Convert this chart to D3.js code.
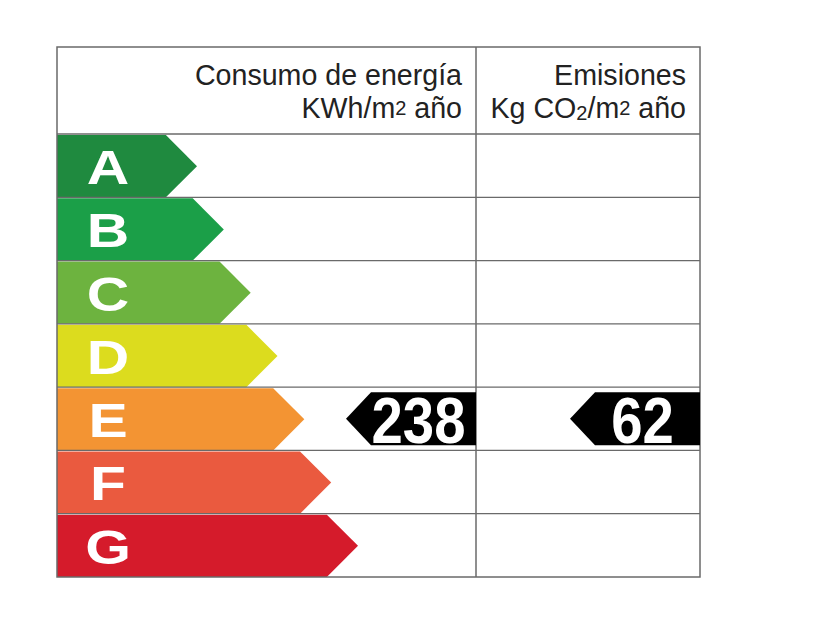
<!DOCTYPE html>
<html>
<head>
<meta charset="utf-8">
<script src="https://cdn.jsdelivr.net/npm/d3@7"></script>
<style>
  html, body { margin: 0; padding: 0; background: #fff; }
  svg { display: block; }
</style>
</head>
<body>
<div id="chart"></div>
<script>
// energy rating classes, best to worst
const ratings = ['A', 'B', 'C', 'D', 'E', 'F', 'G'];
const ratingColors = ['#1f8a3f', '#1b9f48', '#6db33f', '#dcdc1e', '#f39433', '#ea5a3f', '#d51b2b'];

// the two columns of the certificate
const columns = ['consumo', 'emisiones'];
const columnTitles = ['Consumo de energía', 'Emisiones'];
const values = [238, 62];
const valueRatings = ['E', 'E'];

const width = 840;
const height = 630;
const table = { left: 57, right: 700, top: 47, bottom: 577, header: 134, divider: 476 };

const svg = d3.select('#chart')
  .append('svg')
  .attr('width', width)
  .attr('height', height);

// rows
const y = d3.scaleBand()
  .domain(ratings)
  .range([table.header, table.bottom]);

// where each arrow points to
const tip = d3.scalePoint()
  .domain(ratings)
  .range([197, 358]);

const color = d3.scaleOrdinal()
  .domain(ratings)
  .range(ratingColors);

// right edge of each column
const colRight = d3.scaleOrdinal()
  .domain(columns)
  .range([table.divider, table.right]);

const font = '"Liberation Sans", Arial, Helvetica, sans-serif';

// class arrows
const bars = svg.selectAll('g.rating')
  .data(ratings)
  .enter()
  .append('g')
  .attr('class', 'rating');

bars.append('path')
  .attr('d', (d) => {
    const top = y(d) + 1;
    const h = y.bandwidth() - 1;
    const end = tip(d);
    return `M${table.left},${top}H${end - h / 2}L${end},${top + h / 2}L${end - h / 2},${top + h}H${table.left}Z`;
  })
  .attr('fill', (d) => color(d));

bars.append('text')
  .attr('transform', (d) => `translate(108,${y(d) + 50}) scale(1.2,1)`)
  .attr('text-anchor', 'middle')
  .attr('font-family', font)
  .attr('font-weight', 'bold')
  .attr('font-size', 49)
  .attr('fill', '#fff')
  .text((d) => d);

// grid lines
const gridColor = '#6a6a6a';
svg.selectAll('line.rowLine')
  .data(ratings.slice(1))
  .enter()
  .append('line')
  .attr('class', 'rowLine')
  .attr('x1', table.left)
  .attr('x2', table.right)
  .attr('y1', (d) => y(d))
  .attr('y2', (d) => y(d))
  .attr('stroke', gridColor)
  .attr('stroke-width', 1.2);

svg.append('line')
  .attr('x1', table.left)
  .attr('x2', table.right)
  .attr('y1', table.header)
  .attr('y2', table.header)
  .attr('stroke', gridColor)
  .attr('stroke-width', 1.5);

svg.append('line')
  .attr('x1', table.divider)
  .attr('x2', table.divider)
  .attr('y1', table.top)
  .attr('y2', table.bottom)
  .attr('stroke', gridColor)
  .attr('stroke-width', 1.5);

svg.append('rect')
  .attr('x', table.left)
  .attr('y', table.top)
  .attr('width', table.right - table.left)
  .attr('height', table.bottom - table.top)
  .attr('fill', 'none')
  .attr('stroke', gridColor)
  .attr('stroke-width', 1.5);

// header texts
const header = svg.selectAll('text.header')
  .data(columns)
  .enter()
  .append('text')
  .attr('class', 'header')
  .attr('text-anchor', 'end')
  .attr('font-family', font)
  .attr('font-size', 28.6)
  .attr('fill', '#222');

header.append('tspan')
  .attr('x', (d) => colRight(d) - 14)
  .attr('y', 85)
  .text((d, i) => columnTitles[i]);

// second line, units with sub/superscripts
const unitsConsumo = header.filter((d) => d === 'consumo')
  .append('tspan')
  .attr('x', (d) => colRight(d) - 14)
  .attr('y', 118);
unitsConsumo.append('tspan').text('KWh/m');
unitsConsumo.append('tspan').attr('font-size', 20).attr('dy', -3).text('2');
unitsConsumo.append('tspan').attr('dy', 3).text(' año');

const unitsEmis = header.filter((d) => d === 'emisiones')
  .append('tspan')
  .attr('x', (d) => colRight(d) - 14)
  .attr('y', 118);
unitsEmis.append('tspan').text('Kg CO');
unitsEmis.append('tspan').attr('font-size', 20).attr('dy', 2).text('2');
unitsEmis.append('tspan').attr('dy', -2).text('/m');
unitsEmis.append('tspan').attr('font-size', 20).attr('dy', -3).text('2');
unitsEmis.append('tspan').attr('dy', 3).text(' año');

// value indicators
const markW = 130;
const markH = 53;
const markDepth = 25;

const marks = svg.selectAll('g.mark')
  .data(columns)
  .enter()
  .append('g')
  .attr('class', 'mark');

marks.append('path')
  .attr('d', (d, i) => {
    const right = colRight(d);
    const cy = y(valueRatings[i]) + y.bandwidth() / 2;
    const left = right - markW;
    return `M${left},${cy}L${left + markDepth},${cy - markH / 2}H${right}V${cy + markH / 2}H${left + markDepth}Z`;
  })
  .attr('fill', '#000');

marks.append('text')
  .attr('transform', (d, i) => {
    const right = colRight(d);
    const cx = (right - markW + markDepth + right) / 2 - 5;
    return `translate(${cx},${y(valueRatings[i]) + 56}) scale(0.88,1)`;
  })
  .attr('text-anchor', 'middle')
  .attr('font-family', font)
  .attr('font-weight', 'bold')
  .attr('font-size', 64)
  .attr('fill', '#fff')
  .text((d, i) => values[i]);
</script>
</body>
</html>
